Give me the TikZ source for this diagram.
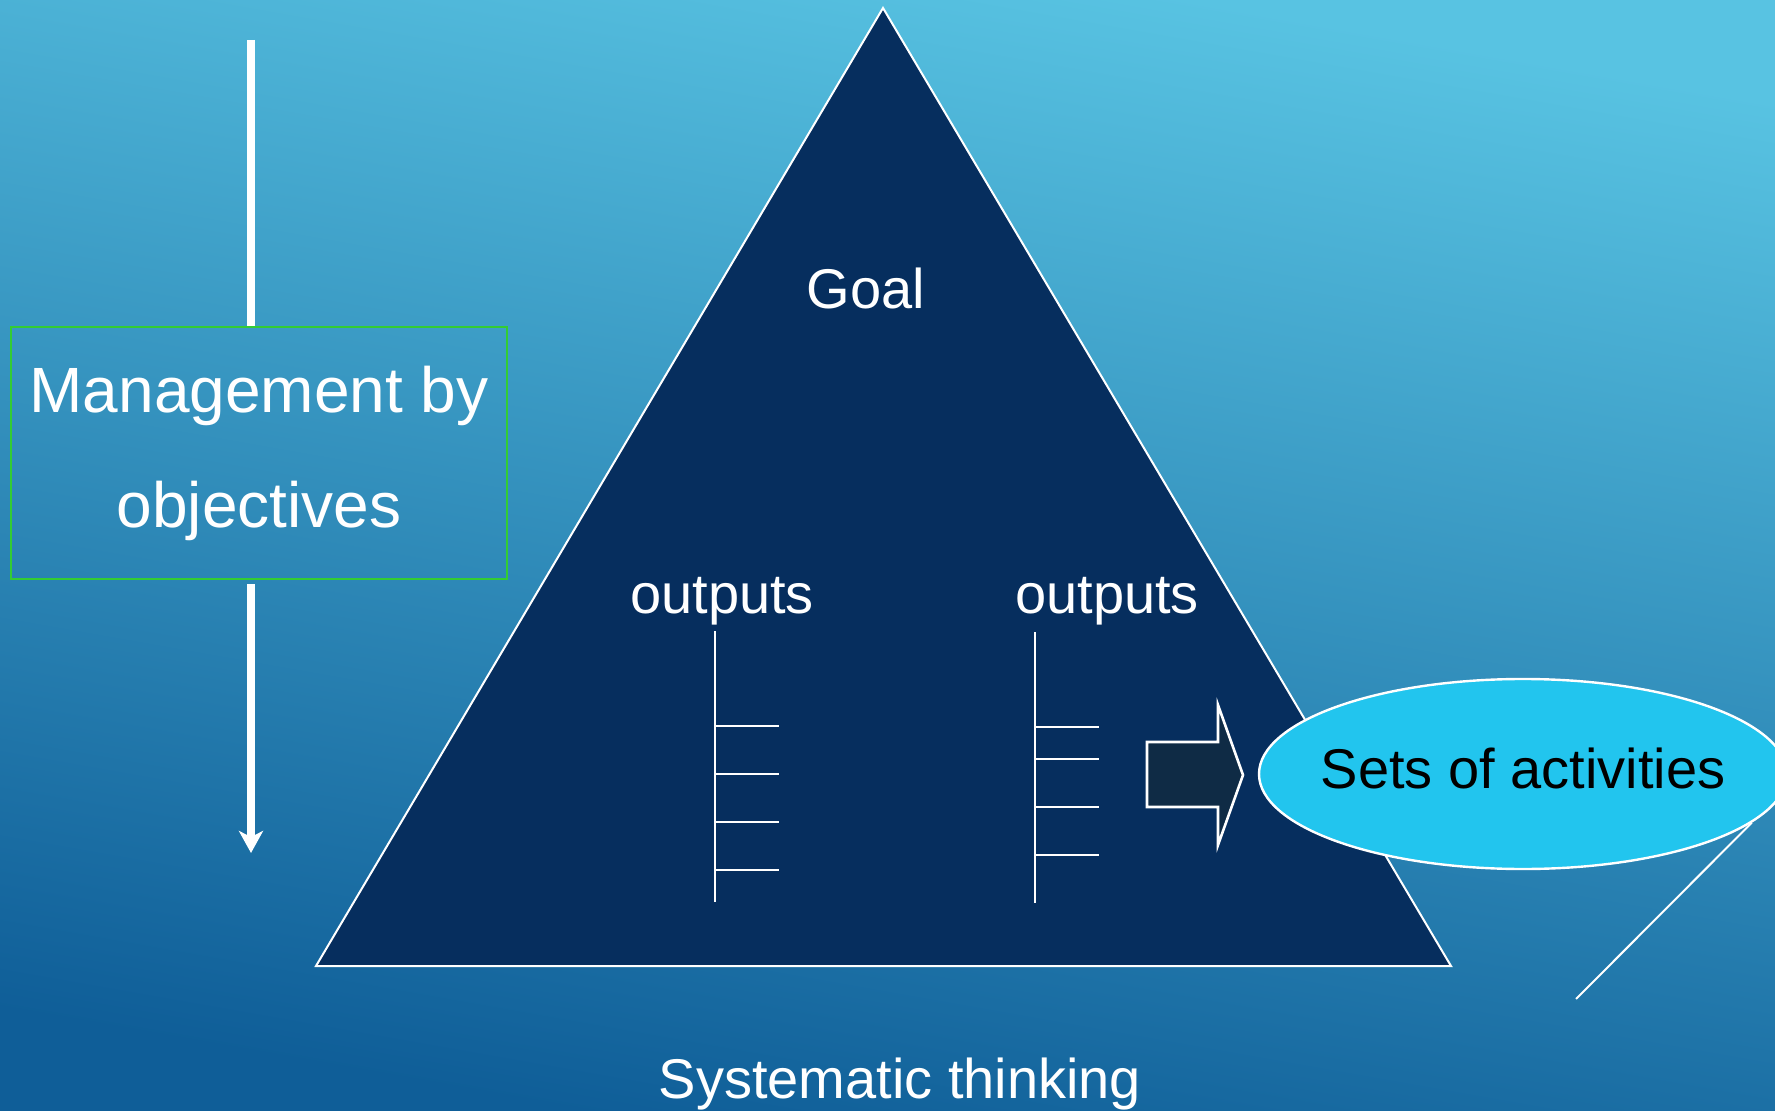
\documentclass[tikz,border=0pt]{standalone}
\usepackage{fontspec}
\setmainfont{Liberation Sans}
\usetikzlibrary{arrows.meta, positioning, shapes.geometric}

\definecolor{bgtop}{HTML}{58C3E2}
\definecolor{bgbot}{HTML}{0F5E98}
\definecolor{navy}{HTML}{062E5E}
\definecolor{blockfill}{HTML}{0F2B45}
\definecolor{skyfill}{HTML}{22C5EE}
\definecolor{boxgreen}{HTML}{33CC33}

\begin{document}
\begin{tikzpicture}[x=0.5pt,y=-0.5pt,
    every node/.style={text=white}]
  \tikzstyle{nodeBox}=[rectangle,draw=boxgreen,line width=1pt,minimum width=248pt,minimum height=126pt,
    align=center,font=\fontsize{32}{57.5}\selectfont,inner sep=0pt]
  \tikzstyle{nodeAct}=[ellipse,draw=white,line width=1.2pt,fill=skyfill,minimum width=264pt,minimum height=95pt,
    inner sep=0pt,text=black,font=\fontsize{28}{34}\selectfont,text depth=6pt]
  \tikzstyle{nodeTxt}=[inner sep=0pt,anchor=base,font=\fontsize{28}{34}\selectfont]
  \tikzstyle{shaft}=[draw=white,line width=3.75pt]
  \tikzstyle{comb}=[draw=white,line width=1pt]

  % background and frame
  \shade[top color=bgtop,bottom color=bgbot,shading angle=-10] (0,0) rectangle (1775,1111);
  \useasboundingbox (0,0) rectangle (1775,1111);

  % pyramid
  \draw[white,line width=1pt,fill=navy] (316,966) -- (883,8) -- (1451,966) -- cycle;

  \node[nodeTxt] (goal) at (866,309) {Goal};
  \node[nodeTxt] (outL) at (722,613) {outputs};
  \node[nodeTxt] (outR) at (1107,613) {outputs};

  % output combs
  \draw[comb] (715,631) -- (715,902);
  \foreach \y in {726,774,822,870}
    \draw[comb] (715,\y) -- (779,\y);
  \draw[comb] (1035,632) -- (1035,903);
  \foreach \y in {727,759,807,855}
    \draw[comb] (1035,\y) -- (1099,\y);

  % block arrow
  \draw[white,line width=1.3pt,fill=blockfill,line join=miter]
    (1147,742) -- (1218,742) -- (1218,705) -- (1243,775) -- (1218,845) -- (1218,807) -- (1147,807) -- cycle;

  \node[nodeAct] (acts) at (1523,774) {\makebox[0pt]{Sets of activities}};
  \coordinate (tail) at (1576,999);
  \draw[white,line width=1pt] (acts.-12) -- (tail);

  % management by objectives
  \node[nodeBox] (mbo) at (259,453) {\raisebox{-1.5pt}{Management by}\\\raisebox{-1.5pt}{objectives}};
  \coordinate (top) at (251,40);
  \coordinate (tip) at (251,853);
  \draw[shaft] (top) -- (top |- mbo.north);
  \draw[shaft,shorten <=2pt,-{Stealth[width=12pt,length=11pt,inset=3pt]}] (tip |- mbo.south) -- (tip);

  \node[nodeTxt] (sys) at (900,1098) {Systematic thinking};
\end{tikzpicture}
\end{document}
